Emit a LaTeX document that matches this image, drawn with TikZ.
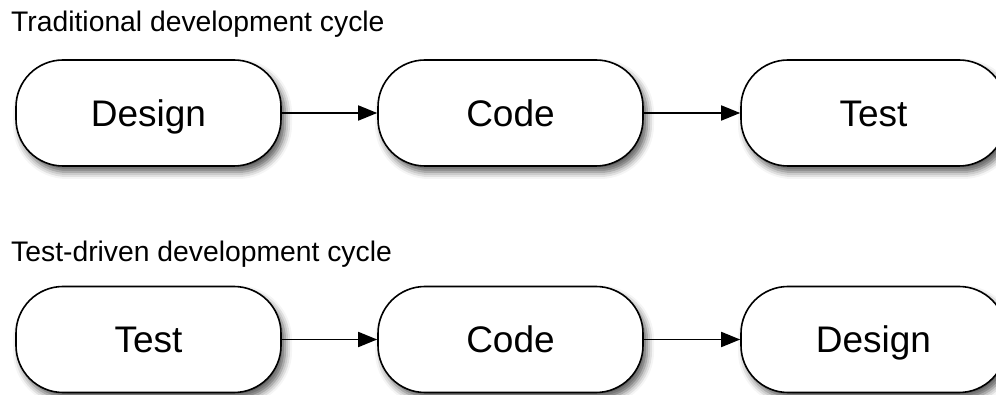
\documentclass[tikz,border=0pt]{standalone}
\usepackage{fontspec}
\setmainfont{Liberation Sans}
\usetikzlibrary{arrows.meta,shadows.blur}

\tikzset{
  stage/.style={draw=black, line width=1.6pt, fill=white,
    rounded corners=47pt, minimum width=265pt, minimum height=106pt,
    inner sep=0pt, font=\fontsize{37}{40}\selectfont,
    text height=26.5pt, text depth=0pt,
    blur shadow={shadow xshift=4pt, shadow yshift=-6pt,
      shadow blur radius=7pt, shadow opacity=65}},
  flow/.style={line width=1.8pt, -{Triangle[length=19pt,width=15pt]}},
  heading/.style={anchor=base west, inner sep=0pt,
    font=\fontsize{28.3}{32}\selectfont}
}

\begin{document}
\begin{tikzpicture}[x=1pt, y=-1pt]
  \useasboundingbox (0,0) rectangle (996,395);
  \clip (0,0) rectangle (996,395);

  % traditional cycle
  \node[heading] (h1) at (11,32) {Traditional development cycle};
  \node[stage] (d1) at (148.5,113) {Design};
  \node[stage] (c1) at (510.5,113) {Code};
  \node[stage] (t1) at (873.5,113) {Test};
  \draw[flow] (d1.east) -- (c1.west);
  \draw[flow] (c1.east) -- (t1.west);

  % test-driven cycle
  \node[heading] (h2) at (11,262) {Test-driven development cycle};
  \node[stage] (t2) at (148.5,339.5) {Test};
  \node[stage] (c2) at (510.5,339.5) {Code};
  \node[stage] (d2) at (873.5,339.5) {Design};
  \draw[flow] (t2.east) -- (c2.west);
  \draw[flow] (c2.east) -- (d2.west);
\end{tikzpicture}
\end{document}
